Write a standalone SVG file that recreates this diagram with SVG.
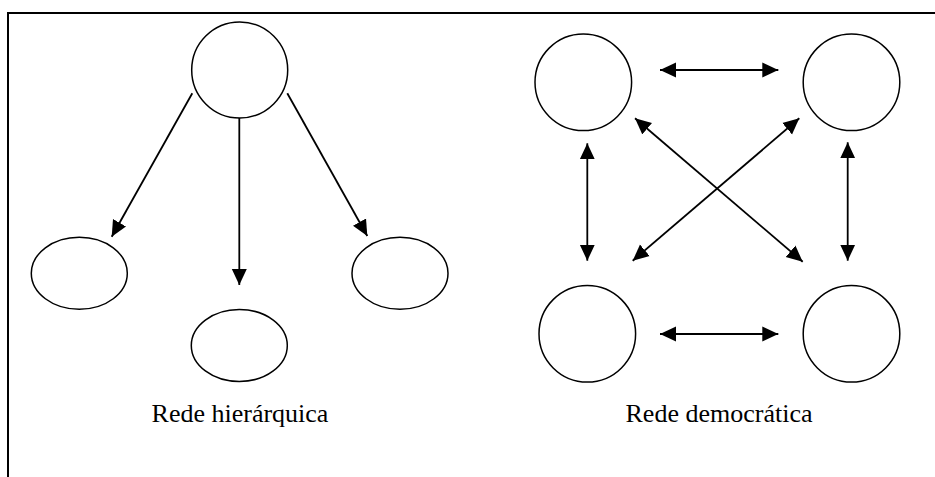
<svg xmlns="http://www.w3.org/2000/svg" width="935" height="477" viewBox="0 0 935 477">
  <style>
    .node { fill: #fff; stroke: #000; stroke-width: 1.5; }
    .edge { stroke: #000; stroke-width: 1.8; fill: none; }
    .frame { stroke: #000; stroke-width: 2; fill: none; }
    .label { font-family: "Liberation Serif", "Times New Roman", serif; font-size: 26px; fill: #000; }
  </style>
  <defs>
    <marker id="head" markerUnits="userSpaceOnUse" markerWidth="17" markerHeight="16" refX="16" refY="8" orient="auto-start-reverse" viewBox="0 0 17 16">
      <path d="M0,0.5 L16,8 L0,15.5 Z" fill="#000"/>
    </marker>
  </defs>

  <!-- frame -->
  <path class="frame" d="M8,477 L8,13 L935,13"/>

  <!-- hierarchical network -->
  <g id="h-root"><circle class="node" cx="239.7" cy="70" r="48"/></g>
  <g id="h-left"><ellipse class="node" cx="79.3" cy="273.3" rx="48" ry="36"/></g>
  <g id="h-mid"><ellipse class="node" cx="239.3" cy="345.5" rx="48" ry="36"/></g>
  <g id="h-right"><ellipse class="node" cx="400" cy="273.3" rx="48" ry="36"/></g>

  <!-- democratic network -->
  <g id="d-tl"><circle class="node" cx="583.3" cy="82.3" r="48.3"/></g>
  <g id="d-tr"><circle class="node" cx="851.5" cy="82.3" r="48.3"/></g>
  <g id="d-bl"><circle class="node" cx="587.3" cy="333.8" r="48.3"/></g>
  <g id="d-br"><circle class="node" cx="851.5" cy="333.8" r="48.3"/></g>

  <g id="connectors">
    <line class="edge" x1="192.3" y1="93.3" x2="111.7" y2="236.7" marker-end="url(#head)"/>
    <line class="edge" x1="239.3" y1="118" x2="239.3" y2="285" marker-end="url(#head)"/>
    <line class="edge" x1="287.3" y1="93.3" x2="367.3" y2="236" marker-end="url(#head)"/>

    <line class="edge" x1="660" y1="70" x2="778.3" y2="70" marker-start="url(#head)" marker-end="url(#head)"/>
    <line class="edge" x1="660" y1="334" x2="778.3" y2="334" marker-start="url(#head)" marker-end="url(#head)"/>
    <line class="edge" x1="587.3" y1="143.3" x2="587.3" y2="260.7" marker-start="url(#head)" marker-end="url(#head)"/>
    <line class="edge" x1="847.7" y1="142.3" x2="847.7" y2="260.7" marker-start="url(#head)" marker-end="url(#head)"/>
    <line class="edge" x1="635" y1="118.3" x2="802.7" y2="261.7" marker-start="url(#head)" marker-end="url(#head)"/>
    <line class="edge" x1="799.3" y1="118.3" x2="632.7" y2="260.7" marker-start="url(#head)" marker-end="url(#head)"/>
  </g>

  <text class="label" x="240" y="422" text-anchor="middle">Rede hierárquica</text>
  <text class="label" x="719" y="422" text-anchor="middle">Rede democrática</text>
</svg>
